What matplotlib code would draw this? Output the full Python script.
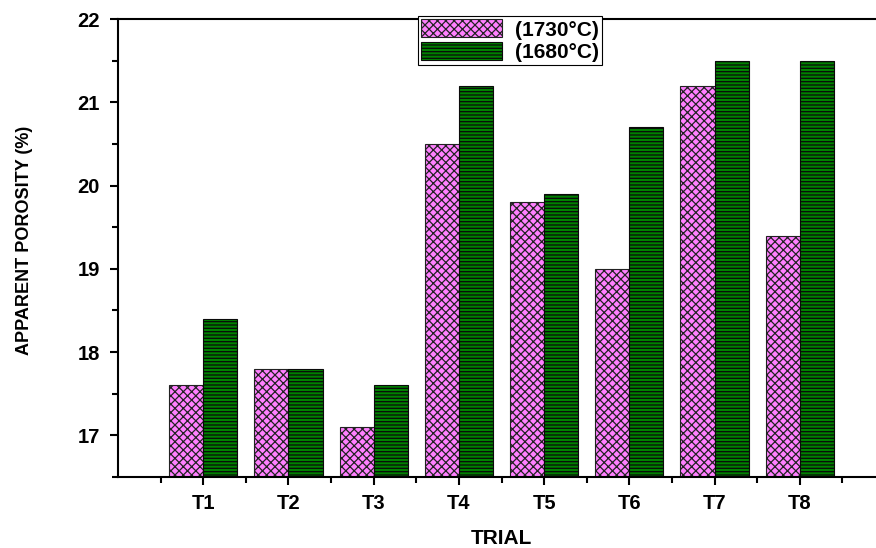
import numpy as np
import matplotlib
matplotlib.use('Agg')
import matplotlib.pyplot as plt

plt.rcParams['font.family'] = ['Liberation Sans', 'DejaVu Sans']
plt.rcParams['font.weight'] = 'bold'
plt.rcParams['hatch.linewidth'] = 0.9

trials = ['T1', 'T2', 'T3', 'T4', 'T5', 'T6', 'T7', 'T8']
porosity_1730 = [17.6, 17.8, 17.1, 20.5, 19.8, 19.0, 21.2, 19.4]
porosity_1680 = [18.4, 17.8, 17.6, 21.2, 19.9, 20.7, 21.5, 21.5]

base = 16.5
width = 0.4
x = np.arange(1, len(trials) + 1)

fig = plt.figure(figsize=(8.76, 5.48), dpi=100)
ax = fig.add_axes([0.1347, 0.1296, 0.8756, 0.8357])

ax.bar(x - width / 2, np.array(porosity_1730) - base, width, bottom=base,
       color='#ff80ff', edgecolor='#222222', hatch='xxxx', linewidth=0.8,
       label='(1730°C)')
ax.bar(x + width / 2, np.array(porosity_1680) - base, width, bottom=base,
       color='#008000', edgecolor='#0a0a0a', hatch='-----', linewidth=0.8,
       label='(1680°C)')

ax.set_xlim(0, 9)
ax.set_ylim(base, 22)
ax.set_xticks(x)
ax.set_xticklabels(trials)
ax.set_xticks(np.arange(0.5, 9, 1), minor=True)
ax.set_yticks([17, 18, 19, 20, 21, 22])
ax.set_yticks(np.arange(16.5, 22, 1), minor=True)
ax.tick_params(axis='both', which='major', direction='out', length=6, width=1.5,
               labelsize=14.5)
ax.tick_params(axis='both', which='minor', direction='out', length=4, width=1.5)
ax.tick_params(axis='x', pad=6)
ax.tick_params(axis='y', pad=7)
for s in ax.spines.values():
    s.set_linewidth(1.5)

ax.set_xlabel('TRIAL', fontsize=15, fontweight='bold')
ax.set_ylabel('APPARENT POROSITY (%)', fontsize=13, fontweight='bold')
ax.xaxis.set_label_coords(0.5, -0.114)
ax.yaxis.set_label_coords(-0.111, 0.517)

leg = ax.legend(loc='upper left', bbox_to_anchor=(0.391, 1.006), fontsize=15,
                handlelength=3.9, handleheight=0.95, fancybox=False,
                framealpha=1, edgecolor='black', borderpad=0.15,
                labelspacing=0.1, handletextpad=0.6, borderaxespad=0)
leg.get_frame().set_linewidth(0.8)

fig.savefig('out.png', dpi=100)
